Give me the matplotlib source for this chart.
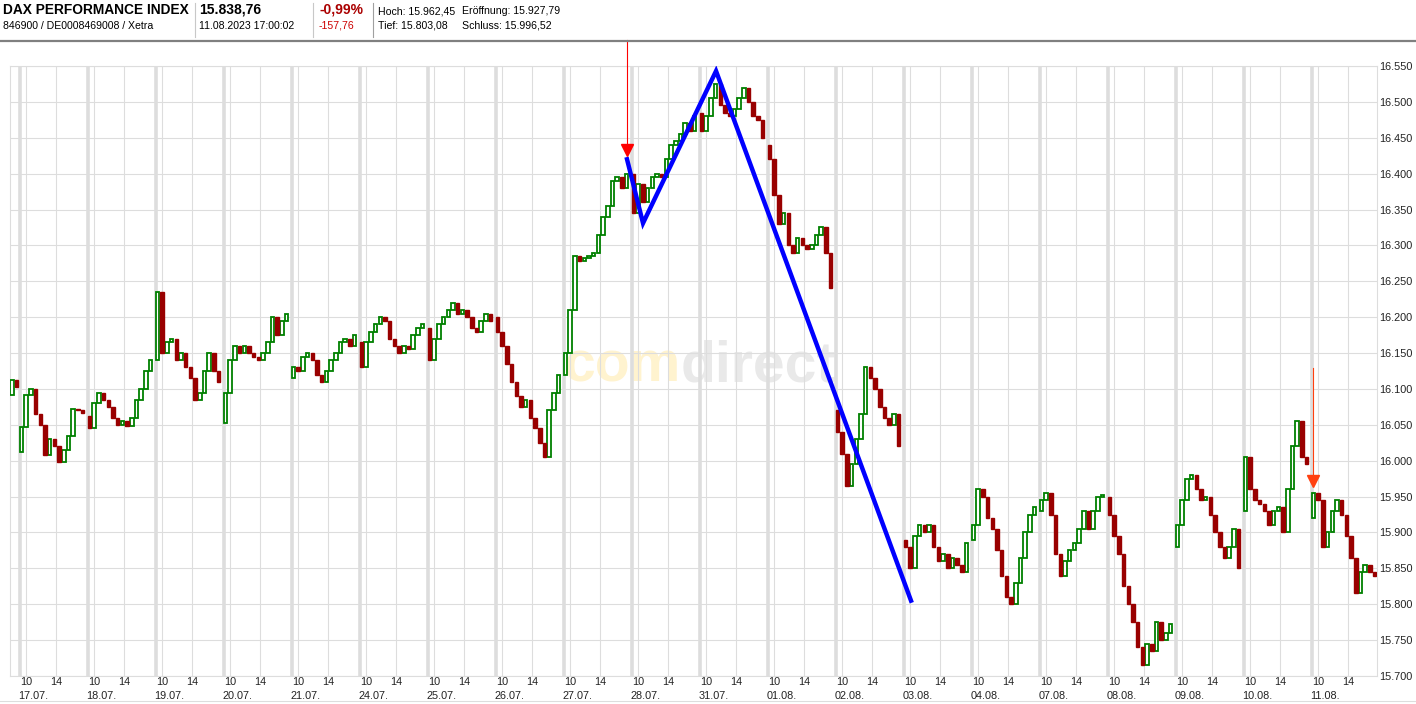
import numpy as np
import matplotlib.pyplot as plt
import matplotlib.transforms as mtransforms
from matplotlib.lines import Line2D

plt.rcParams['font.family'] = ['Liberation Sans', 'DejaVu Sans']

W, H = 1416, 704

# trading days on the x axis
day_labels = ["17.07.", "18.07.", "19.07.", "20.07.", "21.07.", "24.07.", "25.07.",
              "26.07.", "27.07.", "28.07.", "31.07.", "01.08.", "02.08.", "03.08.",
              "04.08.", "07.08.", "08.08.", "09.08.", "10.08.", "11.08."]

# last candles of 14.07. (left of the first day line)
prev_open = 16092
prev_closes = [16112, 16103]

# first open of every day, then the candle closes of that day
day_open = [16012, 16062, 16140, 16052, 16115, 16165, 16185, 16200, 16120, 16400,
            16485, 16440, 16070, 15890, 15890, 15930, 15950, 15880, 15930, 15920]
closes = [
    [16047, 16092, 16100, 16065, 16050, 16008, 16030, 16020, 15998, 16015, 16035, 16072, 16070, 16066],
    [16045, 16080, 16095, 16085, 16075, 16060, 16050, 16055, 16048, 16060, 16085, 16100, 16125, 16140],
    [16235, 16150, 16165, 16170, 16140, 16150, 16130, 16115, 16085, 16095, 16125, 16150, 16125, 16110],
    [16095, 16140, 16160, 16150, 16160, 16150, 16145, 16140, 16150, 16165, 16200, 16175, 16195, 16205],
    [16130, 16125, 16145, 16150, 16140, 16120, 16110, 16125, 16140, 16150, 16165, 16170, 16160, 16175],
    [16130, 16165, 16180, 16190, 16200, 16195, 16170, 16160, 16150, 16160, 16155, 16175, 16185, 16190],
    [16140, 16170, 16190, 16200, 16210, 16220, 16205, 16210, 16200, 16185, 16180, 16195, 16205, 16195],
    [16180, 16160, 16135, 16110, 16090, 16075, 16085, 16060, 16045, 16025, 16005, 16070, 16095, 16120],
    [16150, 16210, 16285, 16278, 16282, 16285, 16290, 16315, 16340, 16355, 16390, 16395, 16380, 16400],
    [16345, 16385, 16360, 16380, 16395, 16400, 16395, 16420, 16440, 16445, 16455, 16470, 16460, 16480],
    [16460, 16480, 16505, 16525, 16495, 16485, 16480, 16490, 16505, 16520, 16500, 16480, 16475, 16450],
    [16420, 16370, 16330, 16345, 16300, 16290, 16310, 16300, 16295, 16300, 16315, 16325, 16290, 16240],
    [16040, 16010, 15965, 15995, 16030, 16065, 16130, 16115, 16100, 16075, 16060, 16050, 16065, 16020],
    [15880, 15850, 15895, 15910, 15900, 15910, 15880, 15860, 15870, 15850, 15865, 15855, 15845, 15885],
    [15910, 15960, 15950, 15920, 15905, 15875, 15840, 15810, 15800, 15830, 15865, 15900, 15925, 15935],
    [15945, 15955, 15925, 15870, 15840, 15860, 15875, 15885, 15905, 15930, 15905, 15930, 15950, 15950],
    [15925, 15895, 15870, 15825, 15800, 15775, 15740, 15715, 15745, 15735, 15775, 15750, 15760, 15772],
    [15910, 15945, 15975, 15980, 15960, 15945, 15950, 15925, 15900, 15880, 15865, 15880, 15905, 15850],
    [16005, 15960, 15945, 15940, 15930, 15910, 15930, 15935, 15900, 15960, 16020, 16055, 16005, 15995],
    [15955, 15945, 15880, 15900, 15930, 15945, 15925, 15895, 15865, 15815, 15845, 15855, 15845, 15839],
]

# blue trend line (x in trading days) and the two sell signals
zig_x = [8.934, 9.169, 10.243, 13.110]
zig_y = [16420, 16331, 16543, 15805]
signal_x = [8.934, 19.022]
signal_y = [16433, 15972]
signal_top = [16586, 16129]
signal_col = ["#ff0000", "#ff4010"]

yticks = np.arange(15700, 16551, 50)

# build candle arrays
xs, op, cl = [], [], []
prev = prev_open
for i, c in enumerate(prev_closes):
    xs.append(-0.11 + i * 0.069)
    op.append(prev)
    cl.append(c)
    prev = c
for d in range(len(day_labels)):
    prev = day_open[d]
    for i, c in enumerate(closes[d]):
        xs.append(d + 0.03 + i * 0.069)
        op.append(prev)
        cl.append(c)
        prev = c
xs, op, cl = np.array(xs), np.array(op, float), np.array(cl, float)
up = cl >= op

fig = plt.figure(figsize=(W / 100, H / 100), dpi=100)
ax = fig.add_axes([10 / W, 1 - 676 / H, 1367 / W, 610 / H])

ax.set_xlim(-0.14, 19.963)
ax.set_ylim(15700, 16550)

# grid
ax.set_axisbelow(True)
ax.grid(True, color="#dddddd", lw=0.8)
for d in range(len(day_labels)):
    ax.axvline(d, color="#dddddd", lw=2.6, zorder=0.6)

# candles
ax.bar(xs[up], np.maximum(cl[up] - op[up], 2), bottom=op[up], width=0.052,
       facecolor="white", edgecolor="#008000", lw=1.3, zorder=3)
ax.bar(xs[~up], op[~up] - cl[~up], bottom=cl[~up], width=0.052,
       color="#990000", edgecolor="#990000", lw=1.0, zorder=3)

# trend line + signals
ax.plot(zig_x, zig_y, color="#0000ff", lw=3.2, zorder=5, solid_joinstyle="miter")
for x, y, top, col in zip(signal_x, signal_y, signal_top, signal_col):
    ax.plot([x, x], [y, top], color=col, lw=0.8, zorder=6, clip_on=False)
    ax.plot([x], [y], marker="v", ms=8, color=col, zorder=7, clip_on=False)

# watermark
wm = ax.text(0.405, 0.463, "com", transform=ax.transAxes, fontsize=41,
             fontweight="bold", color="#fff3cf", zorder=0.1, va="bottom", ha="left")
ax.annotate("direct", xy=(1, 0), xycoords=wm, fontsize=41, fontweight="bold",
            color="#e9e9e9", zorder=0.1, va="bottom", ha="left")

# axes
ax.set_yticks(yticks)
ax.set_yticklabels([f"{v:,.0f}".replace(",", ".") for v in yticks])
ax.yaxis.tick_right()
ticks_x, labels_x = [], []
for d in range(len(day_labels)):
    ticks_x += [d + 0.097, d + 0.537]
    labels_x += ["10", "14"]
ax.set_xticks(ticks_x)
ax.set_xticklabels(labels_x)
ax.tick_params(length=0, labelsize=7.8, labelcolor="#222222")
ax.tick_params(axis="x", pad=0.8)
ax.tick_params(axis="y", pad=1.5)
trans = mtransforms.blended_transform_factory(ax.transData, ax.transAxes)
for d, lab in enumerate(day_labels):
    ax.text(d - 0.02, -0.033, lab, transform=trans, ha="left", va="center",
            fontsize=7.8, color="#222222")
for s in ax.spines.values():
    s.set_color("#dddddd")
    s.set_linewidth(0.8)

# header
def ftext(x, y, s, **kw):
    fig.text(x / W, 1 - y / H, s, va="center", ha="left", **kw)

ftext(3, 10, "DAX PERFORMANCE INDEX", fontsize=9.9, fontweight="bold")
ftext(3, 26, "846900 / DE0008469008 / Xetra", fontsize=7.6)
ftext(199, 10, "15.838,76", fontsize=10, fontweight="bold")
ftext(199, 26, "11.08.2023 17:00:02", fontsize=7.6)
ftext(319, 10, "-0,99%", fontsize=10, fontweight="bold", color="#aa0000")
ftext(319, 26, "-157,76", fontsize=7.6, color="#cc0000")
ftext(378, 11, "Hoch: 15.962,45", fontsize=7.6)
ftext(462, 11, "Eröffnung: 15.927,79", fontsize=7.6)
ftext(378, 26, "Tief: 15.803,08", fontsize=7.6)
ftext(462, 26, "Schluss: 15.996,52", fontsize=7.6)
for xp, col in [(195, "#c8c8c8"), (313, "#c8c8c8"), (373, "#a0a0a0")]:
    fig.add_artist(Line2D([xp / W, xp / W], [1 - 3 / H, 1 - 37 / H], color=col, lw=0.8))
fig.add_artist(Line2D([0, 1], [1 - 40.5 / H, 1 - 40.5 / H], color="#808080", lw=1.6))
fig.add_artist(Line2D([0, 1], [1 - 701 / H, 1 - 701 / H], color="#dddddd", lw=0.8))

fig.savefig("out.png", dpi=100)
